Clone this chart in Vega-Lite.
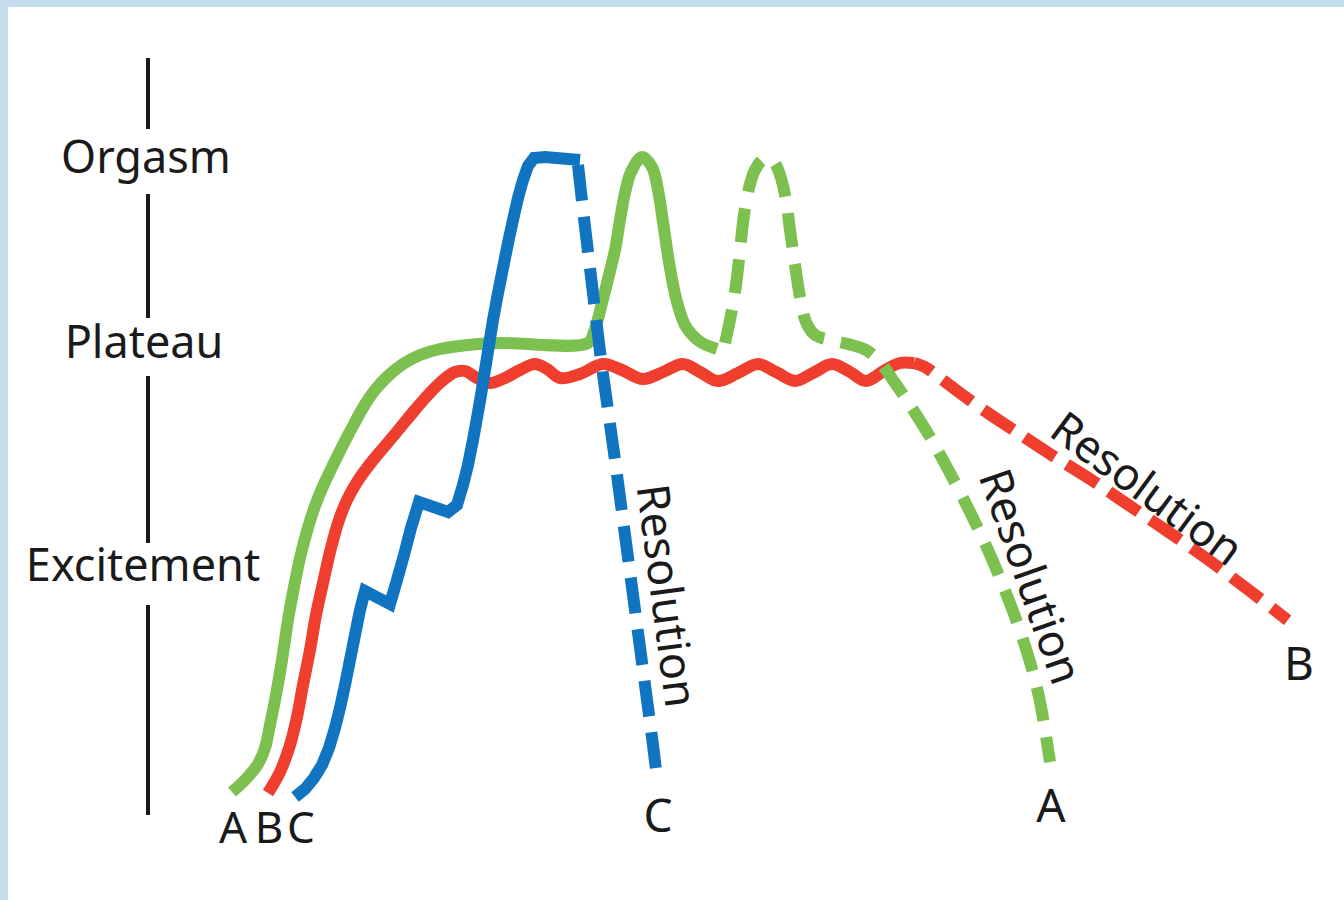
{
  "$schema": "https://vega.github.io/schema/vega-lite/v6.json",
  "width": 1344,
  "height": 900,
  "autosize": {"type": "fit", "contains": "padding"},
  "padding": 0,
  "background": "white",
  "config": {"view": {"stroke": null}},
  "datasets": {
    "frame": [
      {"x": 0, "x2": 1344, "y": 0, "y2": 7},
      {"x": 0, "x2": 8, "y": 0, "y2": 900}
    ],
    "axis": [
      {"x": 148, "y": 58, "y2": 129},
      {"x": 148, "y": 194, "y2": 318},
      {"x": 148, "y": 376, "y2": 543},
      {"x": 148, "y": 605, "y2": 815}
    ],
    "pts": [
      {"s": "B1", "i": 0, "x": 268, "y": 793}, {"s": "B1", "i": 1, "x": 280, "y": 772}, {"s": "B1", "i": 2, "x": 290, "y": 745}, {"s": "B1", "i": 3, "x": 297, "y": 717}, {"s": "B1", "i": 4, "x": 303, "y": 685}, {"s": "B1", "i": 5, "x": 310, "y": 650}, {"s": "B1", "i": 6, "x": 316, "y": 615}, {"s": "B1", "i": 7, "x": 323, "y": 583}, {"s": "B1", "i": 8, "x": 331, "y": 548}, {"s": "B1", "i": 9, "x": 339, "y": 520}, {"s": "B1", "i": 10, "x": 347, "y": 500}, {"s": "B1", "i": 11, "x": 357, "y": 482}, {"s": "B1", "i": 12, "x": 370, "y": 464}, {"s": "B1", "i": 13, "x": 385, "y": 446}, {"s": "B1", "i": 14, "x": 400, "y": 428}, {"s": "B1", "i": 15, "x": 414, "y": 411}, {"s": "B1", "i": 16, "x": 428, "y": 395}, {"s": "B1", "i": 17, "x": 442, "y": 381}, {"s": "B1", "i": 18, "x": 455, "y": 372}, {"s": "B1", "i": 19, "x": 465, "y": 371}, {"s": "B1", "i": 20, "x": 477, "y": 378}, {"s": "B1", "i": 21, "x": 490, "y": 383}, {"s": "B1", "i": 22, "x": 505, "y": 378}, {"s": "B1", "i": 23, "x": 520, "y": 370}, {"s": "B1", "i": 24, "x": 535, "y": 364}, {"s": "B1", "i": 25, "x": 547, "y": 369}, {"s": "B1", "i": 26, "x": 560, "y": 378}, {"s": "B1", "i": 27, "x": 580, "y": 374}, {"s": "B1", "i": 28, "x": 603, "y": 364}, {"s": "B1", "i": 29, "x": 622, "y": 370}, {"s": "B1", "i": 30, "x": 643, "y": 379}, {"s": "B1", "i": 31, "x": 663, "y": 372}, {"s": "B1", "i": 32, "x": 683, "y": 364}, {"s": "B1", "i": 33, "x": 700, "y": 372}, {"s": "B1", "i": 34, "x": 718, "y": 381}, {"s": "B1", "i": 35, "x": 738, "y": 373}, {"s": "B1", "i": 36, "x": 758, "y": 364}, {"s": "B1", "i": 37, "x": 776, "y": 372}, {"s": "B1", "i": 38, "x": 795, "y": 381}, {"s": "B1", "i": 39, "x": 813, "y": 373}, {"s": "B1", "i": 40, "x": 832, "y": 364}, {"s": "B1", "i": 41, "x": 850, "y": 372}, {"s": "B1", "i": 42, "x": 866, "y": 381}, {"s": "B1", "i": 43, "x": 885, "y": 370}, {"s": "B1", "i": 44, "x": 900, "y": 363}, {"s": "B1", "i": 45, "x": 914, "y": 363},
      {"s": "B2", "i": 0, "x": 914, "y": 363}, {"s": "B2", "i": 1, "x": 925, "y": 367}, {"s": "B2", "i": 2, "x": 940, "y": 378}, {"s": "B2", "i": 3, "x": 960, "y": 393}, {"s": "B2", "i": 4, "x": 985, "y": 411}, {"s": "B2", "i": 5, "x": 1015, "y": 431}, {"s": "B2", "i": 6, "x": 1050, "y": 454}, {"s": "B2", "i": 7, "x": 1090, "y": 479}, {"s": "B2", "i": 8, "x": 1130, "y": 506}, {"s": "B2", "i": 9, "x": 1170, "y": 533}, {"s": "B2", "i": 10, "x": 1210, "y": 561}, {"s": "B2", "i": 11, "x": 1250, "y": 591}, {"s": "B2", "i": 12, "x": 1295, "y": 626},
      {"s": "A1", "i": 0, "x": 232, "y": 792}, {"s": "A1", "i": 1, "x": 246, "y": 779}, {"s": "A1", "i": 2, "x": 258, "y": 764}, {"s": "A1", "i": 3, "x": 265, "y": 748}, {"s": "A1", "i": 4, "x": 270, "y": 725}, {"s": "A1", "i": 5, "x": 276, "y": 695}, {"s": "A1", "i": 6, "x": 282, "y": 660}, {"s": "A1", "i": 7, "x": 288, "y": 620}, {"s": "A1", "i": 8, "x": 294, "y": 587}, {"s": "A1", "i": 9, "x": 300, "y": 558}, {"s": "A1", "i": 10, "x": 307, "y": 531}, {"s": "A1", "i": 11, "x": 315, "y": 506}, {"s": "A1", "i": 12, "x": 324, "y": 484}, {"s": "A1", "i": 13, "x": 334, "y": 463}, {"s": "A1", "i": 14, "x": 344, "y": 443}, {"s": "A1", "i": 15, "x": 354, "y": 424}, {"s": "A1", "i": 16, "x": 364, "y": 406}, {"s": "A1", "i": 17, "x": 375, "y": 390}, {"s": "A1", "i": 18, "x": 388, "y": 376}, {"s": "A1", "i": 19, "x": 403, "y": 364}, {"s": "A1", "i": 20, "x": 420, "y": 355}, {"s": "A1", "i": 21, "x": 440, "y": 349}, {"s": "A1", "i": 22, "x": 468, "y": 345}, {"s": "A1", "i": 23, "x": 500, "y": 343}, {"s": "A1", "i": 24, "x": 588, "y": 343}, {"s": "A1", "i": 25, "x": 594, "y": 332}, {"s": "A1", "i": 26, "x": 602, "y": 303}, {"s": "A1", "i": 27, "x": 609, "y": 275}, {"s": "A1", "i": 28, "x": 615, "y": 250}, {"s": "A1", "i": 29, "x": 620, "y": 220}, {"s": "A1", "i": 30, "x": 625, "y": 193}, {"s": "A1", "i": 31, "x": 631, "y": 172}, {"s": "A1", "i": 32, "x": 642, "y": 157}, {"s": "A1", "i": 33, "x": 652, "y": 167}, {"s": "A1", "i": 34, "x": 658, "y": 190}, {"s": "A1", "i": 35, "x": 663, "y": 222}, {"s": "A1", "i": 36, "x": 669, "y": 262}, {"s": "A1", "i": 37, "x": 676, "y": 298}, {"s": "A1", "i": 38, "x": 685, "y": 325}, {"s": "A1", "i": 39, "x": 699, "y": 341}, {"s": "A1", "i": 40, "x": 717, "y": 349},
      {"s": "A2", "i": 0, "x": 725, "y": 343}, {"s": "A2", "i": 1, "x": 731, "y": 315}, {"s": "A2", "i": 2, "x": 736, "y": 285}, {"s": "A2", "i": 3, "x": 740, "y": 250}, {"s": "A2", "i": 4, "x": 744, "y": 215}, {"s": "A2", "i": 5, "x": 749, "y": 188}, {"s": "A2", "i": 6, "x": 755, "y": 170}, {"s": "A2", "i": 7, "x": 764, "y": 159}, {"s": "A2", "i": 8, "x": 773, "y": 161}, {"s": "A2", "i": 9, "x": 780, "y": 175}, {"s": "A2", "i": 10, "x": 786, "y": 200}, {"s": "A2", "i": 11, "x": 790, "y": 230}, {"s": "A2", "i": 12, "x": 795, "y": 265}, {"s": "A2", "i": 13, "x": 800, "y": 297}, {"s": "A2", "i": 14, "x": 806, "y": 322}, {"s": "A2", "i": 15, "x": 815, "y": 335}, {"s": "A2", "i": 16, "x": 830, "y": 340}, {"s": "A2", "i": 17, "x": 848, "y": 344}, {"s": "A2", "i": 18, "x": 866, "y": 350}, {"s": "A2", "i": 19, "x": 880, "y": 362}, {"s": "A2", "i": 20, "x": 895, "y": 383}, {"s": "A2", "i": 21, "x": 910, "y": 405}, {"s": "A2", "i": 22, "x": 930, "y": 437}, {"s": "A2", "i": 23, "x": 950, "y": 473}, {"s": "A2", "i": 24, "x": 970, "y": 512}, {"s": "A2", "i": 25, "x": 988, "y": 550}, {"s": "A2", "i": 26, "x": 1004, "y": 588}, {"s": "A2", "i": 27, "x": 1018, "y": 625}, {"s": "A2", "i": 28, "x": 1030, "y": 662}, {"s": "A2", "i": 29, "x": 1039, "y": 697}, {"s": "A2", "i": 30, "x": 1045, "y": 730}, {"s": "A2", "i": 31, "x": 1050, "y": 762},
      {"s": "C1", "i": 0, "x": 295, "y": 797}, {"s": "C1", "i": 1, "x": 305, "y": 789}, {"s": "C1", "i": 2, "x": 314, "y": 778}, {"s": "C1", "i": 3, "x": 322, "y": 765}, {"s": "C1", "i": 4, "x": 329, "y": 748}, {"s": "C1", "i": 5, "x": 335, "y": 728}, {"s": "C1", "i": 6, "x": 340, "y": 708}, {"s": "C1", "i": 7, "x": 345, "y": 685}, {"s": "C1", "i": 8, "x": 350, "y": 660}, {"s": "C1", "i": 9, "x": 355, "y": 635}, {"s": "C1", "i": 10, "x": 360, "y": 610}, {"s": "C1", "i": 11, "x": 365, "y": 591}, {"s": "C1", "i": 12, "x": 390, "y": 604}, {"s": "C1", "i": 13, "x": 397, "y": 580}, {"s": "C1", "i": 14, "x": 404, "y": 555}, {"s": "C1", "i": 15, "x": 411, "y": 528}, {"s": "C1", "i": 16, "x": 419, "y": 502}, {"s": "C1", "i": 17, "x": 448, "y": 512}, {"s": "C1", "i": 18, "x": 457, "y": 505}, {"s": "C1", "i": 19, "x": 463, "y": 485}, {"s": "C1", "i": 20, "x": 468, "y": 465}, {"s": "C1", "i": 21, "x": 473, "y": 440}, {"s": "C1", "i": 22, "x": 477, "y": 418}, {"s": "C1", "i": 23, "x": 481, "y": 395}, {"s": "C1", "i": 24, "x": 485, "y": 370}, {"s": "C1", "i": 25, "x": 489, "y": 345}, {"s": "C1", "i": 26, "x": 493, "y": 320}, {"s": "C1", "i": 27, "x": 498, "y": 293}, {"s": "C1", "i": 28, "x": 503, "y": 268}, {"s": "C1", "i": 29, "x": 508, "y": 243}, {"s": "C1", "i": 30, "x": 513, "y": 220}, {"s": "C1", "i": 31, "x": 518, "y": 198}, {"s": "C1", "i": 32, "x": 523, "y": 180}, {"s": "C1", "i": 33, "x": 528, "y": 166}, {"s": "C1", "i": 34, "x": 534, "y": 158}, {"s": "C1", "i": 35, "x": 545, "y": 157}, {"s": "C1", "i": 36, "x": 580, "y": 160},
      {"s": "C2", "i": 0, "x": 578, "y": 165}, {"s": "C2", "i": 1, "x": 583, "y": 210}, {"s": "C2", "i": 2, "x": 589, "y": 260}, {"s": "C2", "i": 3, "x": 595, "y": 310}, {"s": "C2", "i": 4, "x": 601, "y": 360}, {"s": "C2", "i": 5, "x": 608, "y": 410}, {"s": "C2", "i": 6, "x": 615, "y": 460}, {"s": "C2", "i": 7, "x": 623, "y": 520}, {"s": "C2", "i": 8, "x": 631, "y": 580}, {"s": "C2", "i": 9, "x": 639, "y": 640}, {"s": "C2", "i": 10, "x": 647, "y": 700}, {"s": "C2", "i": 11, "x": 653, "y": 745}, {"s": "C2", "i": 12, "x": 657, "y": 778}
    ],
    "labels": [
      {"t": "Orgasm", "x": 146, "y": 173, "z": 45},
      {"t": "Plateau", "x": 144, "y": 358, "z": 45},
      {"t": "Excitement", "x": 143, "y": 581, "z": 45},
      {"t": "A", "x": 233, "y": 843, "z": 44},
      {"t": "B", "x": 269, "y": 843, "z": 44},
      {"t": "C", "x": 301, "y": 843, "z": 44},
      {"t": "C", "x": 658, "y": 832, "z": 46},
      {"t": "A", "x": 1051, "y": 822, "z": 46},
      {"t": "B", "x": 1299, "y": 680, "z": 46}
    ],
    "rot": [
      {"t": "Resolution", "x": 665, "y": 596, "a": 82.5},
      {"t": "Resolution", "x": 1029, "y": 577, "a": 70.5},
      {"t": "Resolution", "x": 1146, "y": 490, "a": 36.3}
    ]
  },
  "encoding": {
    "x": {"field": "x", "type": "quantitative", "scale": {"domain": [0, 1344], "nice": false, "zero": false}, "axis": null},
    "y": {"field": "y", "type": "quantitative", "scale": {"domain": [0, 900], "nice": false, "zero": false, "reverse": true}, "axis": null}
  },
  "layer": [
    {
      "data": {"name": "frame"},
      "mark": {"type": "rect", "color": "#c4dcec"},
      "encoding": {"x2": {"field": "x2"}, "y2": {"field": "y2"}}
    },
    {
      "data": {"name": "axis"},
      "mark": {"type": "rule", "color": "#1a1a1a", "strokeWidth": 4},
      "encoding": {"y2": {"field": "y2"}}
    },
    {
      "data": {"name": "pts"},
      "transform": [{"filter": "datum.s === 'B1'"}],
      "mark": {"type": "line", "color": "#ef3d2e", "strokeWidth": 12, "strokeCap": "butt", "strokeJoin": "round", "interpolate": "catmull-rom"},
      "encoding": {"order": {"field": "i", "type": "quantitative"}}
    },
    {
      "data": {"name": "pts"},
      "transform": [{"filter": "datum.s === 'B2'"}],
      "mark": {"type": "line", "color": "#ef3d2e", "strokeWidth": 12, "strokeCap": "butt", "strokeJoin": "round", "interpolate": "catmull-rom", "strokeDash": [20, 14, 36, 14, 36, 14, 36, 14, 36, 14, 36, 14, 36, 14, 36, 14, 36, 14]},
      "encoding": {"order": {"field": "i", "type": "quantitative"}}
    },
    {
      "data": {"name": "pts"},
      "transform": [{"filter": "datum.s === 'A1'"}],
      "mark": {"type": "line", "color": "#7cc04f", "strokeWidth": 12, "strokeCap": "butt", "strokeJoin": "round", "interpolate": "catmull-rom"},
      "encoding": {"order": {"field": "i", "type": "quantitative"}}
    },
    {
      "data": {"name": "pts"},
      "transform": [{"filter": "datum.s === 'A2'"}],
      "mark": {"type": "line", "color": "#7cc04f", "strokeWidth": 12, "strokeCap": "butt", "strokeJoin": "round", "interpolate": "catmull-rom", "strokeDash": [34, 17]},
      "encoding": {"order": {"field": "i", "type": "quantitative"}}
    },
    {
      "data": {"name": "pts"},
      "transform": [{"filter": "datum.s === 'C1'"}],
      "mark": {"type": "line", "color": "#1174c1", "strokeWidth": 12, "strokeCap": "butt", "strokeJoin": "miter", "interpolate": "linear"},
      "encoding": {"order": {"field": "i", "type": "quantitative"}}
    },
    {
      "data": {"name": "pts"},
      "transform": [{"filter": "datum.s === 'C2'"}],
      "mark": {"type": "line", "color": "#1174c1", "strokeWidth": 12, "strokeCap": "butt", "strokeJoin": "round", "interpolate": "linear", "strokeDash": [36, 16]},
      "encoding": {"order": {"field": "i", "type": "quantitative"}}
    },
    {
      "data": {"name": "labels"},
      "mark": {"type": "text", "font": "Noto Sans", "color": "#1a1a1a", "align": "center", "baseline": "alphabetic"},
      "encoding": {
        "text": {"field": "t"},
        "size": {"field": "z", "type": "quantitative", "scale": null}
      }
    },
    {
      "data": {"name": "rot"},
      "mark": {"type": "text", "font": "Noto Sans", "color": "#1a1a1a", "align": "center", "baseline": "middle", "fontSize": 45},
      "encoding": {
        "text": {"field": "t"},
        "angle": {"field": "a", "type": "quantitative", "scale": null}
      }
    }
  ]
}
